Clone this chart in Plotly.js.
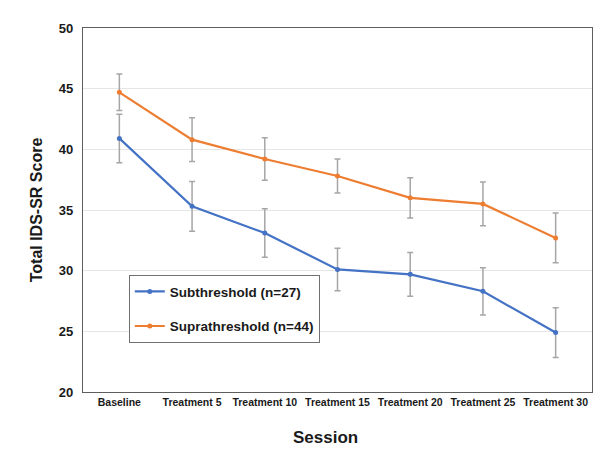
<!DOCTYPE html>
<html><head><meta charset="utf-8">
<script src="https://cdn.plot.ly/plotly-3.0.1.min.js"></script>
<style>html,body{margin:0;padding:0;background:#fff}</style>
</head><body><div id="chart" style="width:606px;height:452px"></div>
<script>
var sessions = ["Baseline","Treatment 5","Treatment 10","Treatment 15","Treatment 20","Treatment 25","Treatment 30"];
var subValues = [40.9, 35.3, 33.1, 30.1, 29.7, 28.3, 24.9];
var subErr = [2.0, 2.05, 2.0, 1.75, 1.8, 1.95, 2.05];
var supValues = [44.7, 40.8, 39.2, 37.8, 36.0, 35.5, 32.7];
var supErr = [1.5, 1.8, 1.75, 1.4, 1.65, 1.8, 2.05];
var yTicks = [20, 25, 30, 35, 40, 45, 50];

var font = "Liberation Sans, Arial, sans-serif";
function tr(name, y, e, color, grp){
  return {x: sessions, y: y, name: name, type: "scatter", mode: "lines+markers",
    legendgroup: grp,
    line: {color: color, width: 2.2}, marker: {color: color, size: 5},
    error_y: {type: "data", array: e, visible: true, color: "#a6a6a6", thickness: 1.5, width: 3}};
}
var data = [tr("Subthreshold (n=27)", subValues, subErr, "#4472C4", "a"),
            tr("Suprathreshold (n=44)", supValues, supErr, "#ED7D31", "b")];
var layout = {
  width: 606, height: 452,
  margin: {l: 83, r: 14, t: 28, b: 60},
  paper_bgcolor: "#fff", plot_bgcolor: "#fff",
  font: {family: font, color: "#1a1a1a"},
  showlegend: true,
  legend: {x: 0.09, y: 0.321, xanchor: "left", yanchor: "top",
    bordercolor: "#707070", borderwidth: 1, bgcolor: "#fff",
    font: {family: font, size: 13.5, color: "#1a1a1a", weight: "bold"},
    traceorder: "grouped", tracegroupgap: 14, itemwidth: 30},
  xaxis: {type: "category", tickfont: {family: font, size: 10.5, weight: "bold"},
    showgrid: false, showline: true, mirror: true, linecolor: "#5e5e5e", linewidth: 1.2,
    ticks: "", range: [-0.5, 6.5]},
  yaxis: {range: [20, 50], tickvals: yTicks, ticktext: yTicks.map(String),
    tickfont: {family: font, size: 13, weight: "bold"}, ticklabelstandoff: 6,
    showgrid: true, gridcolor: "#e6e6e6", gridwidth: 1,
    showline: true, mirror: true, linecolor: "#5e5e5e", linewidth: 1.2,
    ticks: "", ticklen: 0, zeroline: false,
    title: {text: "Total IDS-SR Score", font: {family: font, size: 16, weight: "bold"}, standoff: 12}},
  annotations: [{text: "Session", xref: "paper", yref: "paper", x: 0.477, y: -0.125,
    xanchor: "center", yanchor: "middle", showarrow: false,
    font: {family: font, size: 17, weight: "bold", color: "#1a1a1a"}}]
};
Plotly.newPlot("chart", data, layout, {displayModeBar: false, staticPlot: true});
</script></body></html>
